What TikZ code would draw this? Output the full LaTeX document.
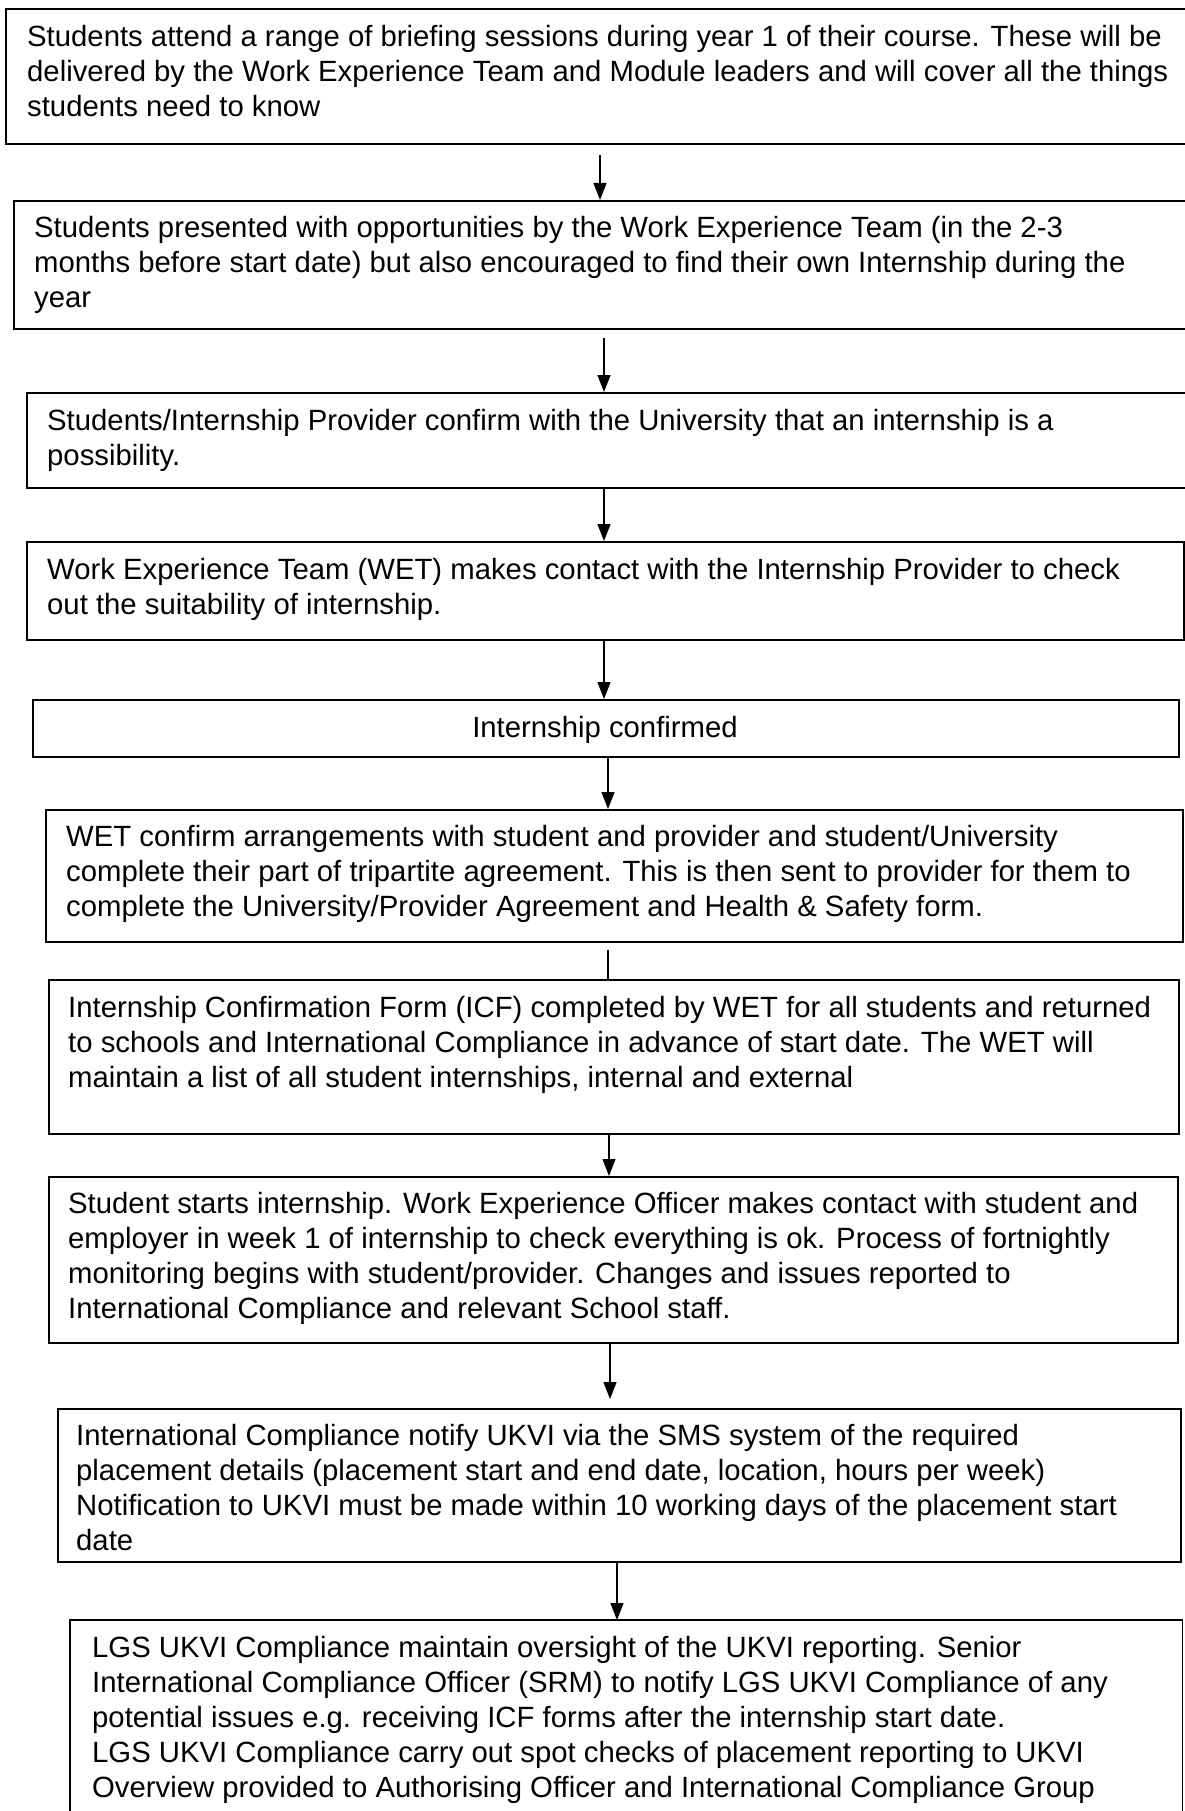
\documentclass[tikz,border=0pt]{standalone}
\usepackage{fontspec}
\setmainfont{Liberation Sans}
\usetikzlibrary{arrows.meta}
\begin{document}
\begin{tikzpicture}[x=1pt,y=-1pt,
  boxnode/.style={draw=black,line width=1.8pt,rectangle,inner sep=0pt,anchor=north west},
  openbox/.style={draw=none,rectangle,inner sep=0pt,anchor=north west},
  txt/.style={anchor=base west,inner sep=0pt,font=\fontsize{29.3}{35}\selectfont},
  arr/.style={line width=1.3pt,-{Triangle[length=17pt,width=13pt]}},
  plain/.style={line width=1.3pt}]
\useasboundingbox (0,0) rectangle (1184,1811);
\fill[white] (0,0) rectangle (1184,1811);
% boxes
\node[boxnode,minimum width=1200pt,minimum height=135pt] (b1) at (5,8) {};
\node[boxnode,minimum width=1190pt,minimum height=128pt] (b2) at (13,200) {};
\node[boxnode,minimum width=1180pt,minimum height=95pt] (b3) at (26,392) {};
\node[boxnode,minimum width=1157pt,minimum height=98pt] (b4) at (26,541) {};
\node[boxnode,minimum width=1146pt,minimum height=57pt] (b5) at (32,699) {};
\node[boxnode,minimum width=1137pt,minimum height=132pt] (b6) at (45,809) {};
\node[boxnode,minimum width=1130pt,minimum height=154pt] (b7) at (48,979) {};
\node[boxnode,minimum width=1129pt,minimum height=166pt] (b8) at (48,1176) {};
\node[boxnode,minimum width=1123pt,minimum height=153pt] (b9) at (57,1408) {};
\node[openbox,minimum width=1112pt,minimum height=191pt] (b10) at (70,1620) {};
\draw[line width=1.8pt] (b10.south west) -- (b10.north west) -- (b10.north east) -- (b10.south east);
% texts
\node[txt] (t1) at (27,47) {\vtop{\hbox{Students attend a range of briefing sessions during year 1 of their course. These will be}\hbox{delivered by the Work Experience Team and Module leaders and will cover all the things}\hbox{students need to know}}};
\node[txt] (t2) at (34,238) {\vtop{\hbox{Students presented with opportunities by the Work Experience Team (in the 2-3}\hbox{months before start date) but also encouraged to find their own Internship during the}\hbox{year}}};
\node[txt] (t3) at (47,430) {\vtop{\hbox{Students/Internship Provider confirm with the University that an internship is a}\hbox{possibility.}}};
\node[txt] (t4) at (47,579) {\vtop{\hbox{Work Experience Team (WET) makes contact with the Internship Provider to check}\hbox{out the suitability of internship.}}};
\node[anchor=base,inner sep=0pt,font=\fontsize{29.3}{35}\selectfont] (t5) at (605,737) {Internship confirmed};
\node[txt] (t6) at (66,846) {\vtop{\hbox{WET confirm arrangements with student and provider and student/University}\hbox{complete their part of tripartite agreement. This is then sent to provider for them to}\hbox{complete the University/Provider Agreement and Health \& Safety form.}}};
\node[txt] (t7) at (68,1017) {\vtop{\hbox{Internship Confirmation Form (ICF) completed by WET for all students and returned}\hbox{to schools and International Compliance in advance of start date. The WET will}\hbox{maintain a list of all student internships, internal and external}}};
\node[txt] (t8) at (68,1213) {\vtop{\hbox{Student starts internship. Work Experience Officer makes contact with student and}\hbox{employer in week 1 of internship to check everything is ok. Process of fortnightly}\hbox{monitoring begins with student/provider. Changes and issues reported to}\hbox{International Compliance and relevant School staff.}}};
\node[txt] (t9) at (76,1445) {\vtop{\hbox{International Compliance notify UKVI via the SMS system of the required}\hbox{placement details (placement start and end date, location, hours per week)}\hbox{Notification to UKVI must be made within 10 working days of the placement start}\hbox{date}}};
\node[txt] (t10) at (92,1657) {\vtop{\hbox{LGS UKVI Compliance maintain oversight of the UKVI reporting. Senior}\hbox{International Compliance Officer (SRM) to notify LGS UKVI Compliance of any}\hbox{potential issues e.g. receiving ICF forms after the internship start date.}\hbox{LGS UKVI Compliance carry out spot checks of placement reporting to UKVI}\hbox{Overview provided to Authorising Officer and International Compliance Group}}};
% connector x positions
\coordinate (x1) at (600,0);
\coordinate (x2) at (604,0);
\coordinate (x5) at (608,0);
\coordinate (x7) at (609,0);
\coordinate (x8) at (610,0);
\coordinate (x9) at (617,0);
% connectors
\draw[arr] ([yshift=-10pt]b1.south -| x1) -- (b2.north -| x1);
\draw[arr] ([yshift=-8pt]b2.south -| x2) -- (b3.north -| x2);
\draw[arr] (b3.south -| x2) -- (b4.north -| x2);
\draw[arr] (b4.south -| x2) -- (b5.north -| x2);
\draw[arr] (b5.south -| x5) -- (b6.north -| x5);
\draw[plain] ([yshift=-7pt]b6.south -| x5) -- (b7.north -| x5);
\draw[arr] (b7.south -| x7) -- (b8.north -| x7);
\draw[arr] (b8.south -| x8) -- ([yshift=9pt]b9.north -| x8);
\draw[arr] (b9.south -| x9) -- (b10.north -| x9);
\end{tikzpicture}
\end{document}
